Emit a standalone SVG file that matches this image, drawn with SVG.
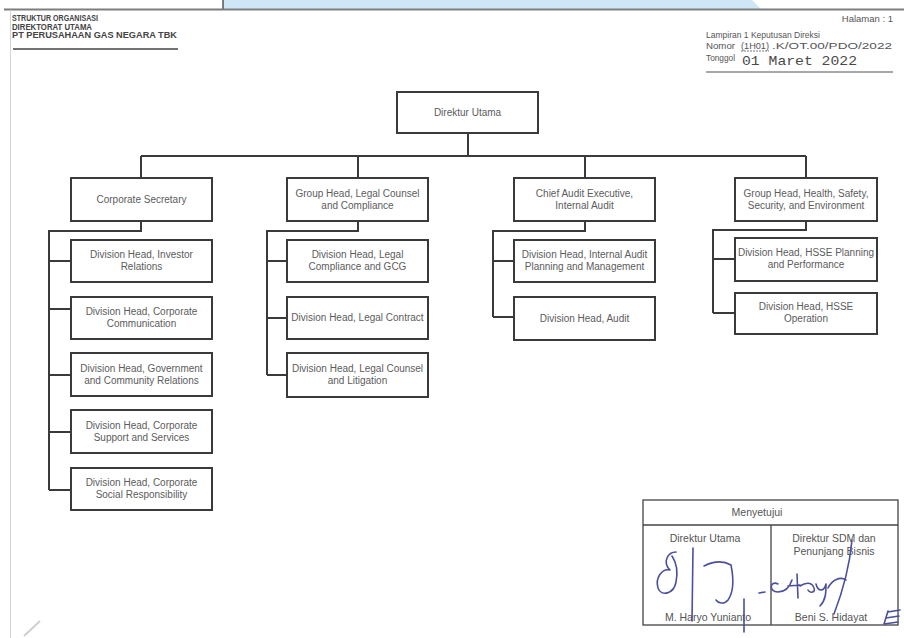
<svg xmlns="http://www.w3.org/2000/svg" width="904" height="638" viewBox="0 0 904 638">
<style>
.box{fill:#fff;stroke:#3a3a3a;stroke-width:2}
.t{font-family:"Liberation Sans",Arial,sans-serif;font-size:10px;fill:#5c5c5c;text-anchor:middle}
.con{fill:none;stroke:#3a3a3a;stroke-width:2}
.hd{font-family:"Liberation Sans",Arial,sans-serif;font-size:8.5px;fill:#444;font-weight:bold}
.rh{font-family:"Liberation Sans",Arial,sans-serif;font-size:9.5px;fill:#555}
.tb{fill:none;stroke:#444;stroke-width:1.3}
.ap{font-family:"Liberation Sans",Arial,sans-serif;font-size:10.5px;fill:#555;text-anchor:middle}
.sig{fill:none;stroke:#4a4f9e;stroke-width:1.6;stroke-linecap:round;stroke-linejoin:round}
</style>
<rect width="904" height="638" fill="#ffffff"/>
<!-- scan artefacts -->
<polygon points="223,0 752,0 761,9 223,9" fill="#cfe6f6"/>
<line x1="223" y1="0" x2="223" y2="9" stroke="#555" stroke-width="1.5"/>
<line x1="4" y1="9.5" x2="904" y2="9.5" stroke="#7d7d7d" stroke-width="2"/>
<line x1="10.5" y1="10" x2="10.5" y2="638" stroke="#d4d4d4" stroke-width="1"/>
<path d="M24 636 L40 621" stroke="#cfcfcf" stroke-width="2" fill="none"/>

<!-- header -->
<g id="header-left">
<text class="hd" x="12" y="21" textLength="86" lengthAdjust="spacingAndGlyphs">STRUKTUR ORGANISASI</text>
<text class="hd" x="12" y="29.5" textLength="80" lengthAdjust="spacingAndGlyphs">DIREKTORAT UTAMA</text>
<text class="hd" x="12" y="38" textLength="165" lengthAdjust="spacingAndGlyphs">PT PERUSAHAAN GAS NEGARA TBK</text>
<line x1="13" y1="49" x2="178" y2="49" stroke="#444" stroke-width="1.5"/>
</g>
<g id="header-right">
<text class="rh" x="893" y="22" text-anchor="end" font-size="7">Halaman : 1</text>
<text class="rh" x="706" y="38" textLength="114" lengthAdjust="spacingAndGlyphs">Lampiran 1 Keputusan Direksi</text>
<text class="rh" x="706" y="49" textLength="29" lengthAdjust="spacingAndGlyphs">Nomor</text>
<text class="rh" x="741" y="49" textLength="28" lengthAdjust="spacingAndGlyphs">(1H01)</text>
<line x1="741" y1="51" x2="769" y2="51" stroke="#555" stroke-width="0.8" stroke-dasharray="2 1"/>
<text class="rh" x="772" y="49" textLength="120" lengthAdjust="spacingAndGlyphs">.K/OT.00/PDO/2022</text>
<text class="rh" x="706" y="61" textLength="29" lengthAdjust="spacingAndGlyphs">Tonggol</text>
<text x="742" y="65" font-family="Liberation Mono,Courier New,monospace" font-size="13.5" fill="#4a4a4a" textLength="115" lengthAdjust="spacingAndGlyphs">01 Maret 2022</text>
<line x1="706" y1="72" x2="893" y2="72" stroke="#555" stroke-width="1.2"/>
</g>

<!-- connectors -->
<g id="connectors" class="con">
<path d="M468 133 V156"/>
<path d="M141 156 H806"/>
<path d="M141 156 V178 M358 156 V178 M585 156 V178 M806 156 V178"/>
<path d="M141 221 V231 H49 V490"/>
<path d="M49 261 H71 M49 309 H71 M49 375 H71 M49 432 H71 M49 490 H71"/>
<path d="M358 221 V231 H267 V375"/>
<path d="M267 261 H287 M267 318 H287 M267 375 H287"/>
<path d="M585 221 V231 H493 V317"/>
<path d="M493 261 H514 M493 317 H514"/>
<path d="M806 221 V230 H713 V313"/>
<path d="M713 259 H735 M713 313 H735"/>
</g>

<!-- nodes -->
<g id="direktur-utama"><rect class="box" x="397" y="92" width="141" height="41"/><text class="t" x="467.5" y="116">Direktur Utama</text></g>

<g id="corporate-secretary"><rect class="box" x="71" y="178" width="141" height="43"/><text class="t" x="141.5" y="203">Corporate Secretary</text></g>
<g id="dh-investor-relations"><rect class="box" x="71" y="240" width="141" height="42"/><text class="t" x="141.5" y="258">Division Head, Investor</text><text class="t" x="141.5" y="270">Relations</text></g>
<g id="dh-corporate-communication"><rect class="box" x="71" y="297" width="141" height="42"/><text class="t" x="141.5" y="315">Division Head, Corporate</text><text class="t" x="141.5" y="327">Communication</text></g>
<g id="dh-government-community"><rect class="box" x="71" y="353" width="141" height="43"/><text class="t" x="141.5" y="372">Division Head, Government</text><text class="t" x="141.5" y="384">and Community Relations</text></g>
<g id="dh-corporate-support"><rect class="box" x="71" y="410" width="141" height="43"/><text class="t" x="141.5" y="429">Division Head, Corporate</text><text class="t" x="141.5" y="441">Support and Services</text></g>
<g id="dh-csr"><rect class="box" x="71" y="468" width="141" height="42"/><text class="t" x="141.5" y="486">Division Head, Corporate</text><text class="t" x="141.5" y="498">Social Responsibility</text></g>

<g id="gh-legal"><rect class="box" x="287" y="178" width="141" height="43"/><text class="t" x="357.5" y="197">Group Head, Legal Counsel</text><text class="t" x="357.5" y="209">and Compliance</text></g>
<g id="dh-legal-compliance"><rect class="box" x="287" y="240" width="141" height="42"/><text class="t" x="357.5" y="258">Division Head, Legal</text><text class="t" x="357.5" y="270">Compliance and GCG</text></g>
<g id="dh-legal-contract"><rect class="box" x="287" y="297" width="141" height="42"/><text class="t" x="357.5" y="321">Division Head, Legal Contract</text></g>
<g id="dh-legal-litigation"><rect class="box" x="287" y="353" width="141" height="44"/><text class="t" x="357.5" y="372">Division Head, Legal Counsel</text><text class="t" x="357.5" y="384">and Litigation</text></g>

<g id="cae-internal-audit"><rect class="box" x="514" y="178" width="141" height="43"/><text class="t" x="584.5" y="197">Chief Audit Executive,</text><text class="t" x="584.5" y="209">Internal Audit</text></g>
<g id="dh-ia-planning"><rect class="box" x="514" y="240" width="141" height="42"/><text class="t" x="584.5" y="258">Division Head, Internal Audit</text><text class="t" x="584.5" y="270">Planning and Management</text></g>
<g id="dh-audit"><rect class="box" x="514" y="297" width="141" height="43"/><text class="t" x="584.5" y="322">Division Head, Audit</text></g>

<g id="gh-hsse"><rect class="box" x="735" y="178" width="142" height="43"/><text class="t" x="806" y="197">Group Head, Health, Safety,</text><text class="t" x="806" y="209">Security, and Environment</text></g>
<g id="dh-hsse-planning"><rect class="box" x="735" y="238" width="142" height="43"/><text class="t" x="806" y="256">Division Head, HSSE Planning</text><text class="t" x="806" y="268">and Performance</text></g>
<g id="dh-hsse-operation"><rect class="box" x="735" y="293" width="142" height="41"/><text class="t" x="806" y="310">Division Head, HSSE</text><text class="t" x="806" y="322">Operation</text></g>

<!-- approval table -->
<g id="approval">
<rect class="tb" x="643" y="500" width="255" height="125"/>
<line class="tb" x1="643" y1="525" x2="898" y2="525"/>
<line class="tb" x1="771" y1="525" x2="771" y2="625"/>
<text class="ap" x="757" y="516">Menyetujui</text>
<text class="ap" x="705" y="542">Direktur Utama</text>
<text class="ap" x="834" y="542">Direktur SDM dan</text>
<text class="ap" x="834" y="555">Penunjang Bisnis</text>
<text class="ap" x="708" y="621">M. Haryo Yunianto</text>
<text class="ap" x="831" y="621">Beni S. Hidayat</text>
<path class="sig" d="M676 552 C668 552 662 562 670 570 C662 568 655 578 658 588 C661 597 674 594 676 582 C678 572 676 562 672 556"/>
<path class="sig" d="M693 548 L692 621"/>
<path class="sig" d="M704 566 C714 561 724 561 731 565 C734 580 733 593 728 600 C724 605 718 603 716 600"/>
<path class="sig" d="M744 599 L744 632"/>
<path class="sig" d="M759 593 L765 592"/>
<path class="sig" d="M778 584 C770 580 768 592 778 592 C786 592 790 586 792 580 M788 586 L800 585 M797 574 L798 598 M800 586 C806 582 812 582 814 588 C816 592 810 594 808 590 M816 584 C818 592 824 592 826 584 C826 592 826 600 820 606 M828 588 C832 580 840 576 846 580 M852 540 C850 562 844 588 834 614"/>
<path class="sig" d="M888 612 L900 610 M886 618 L899 616 M888 611 L884 624 L898 622"/>
</g>
</svg>
